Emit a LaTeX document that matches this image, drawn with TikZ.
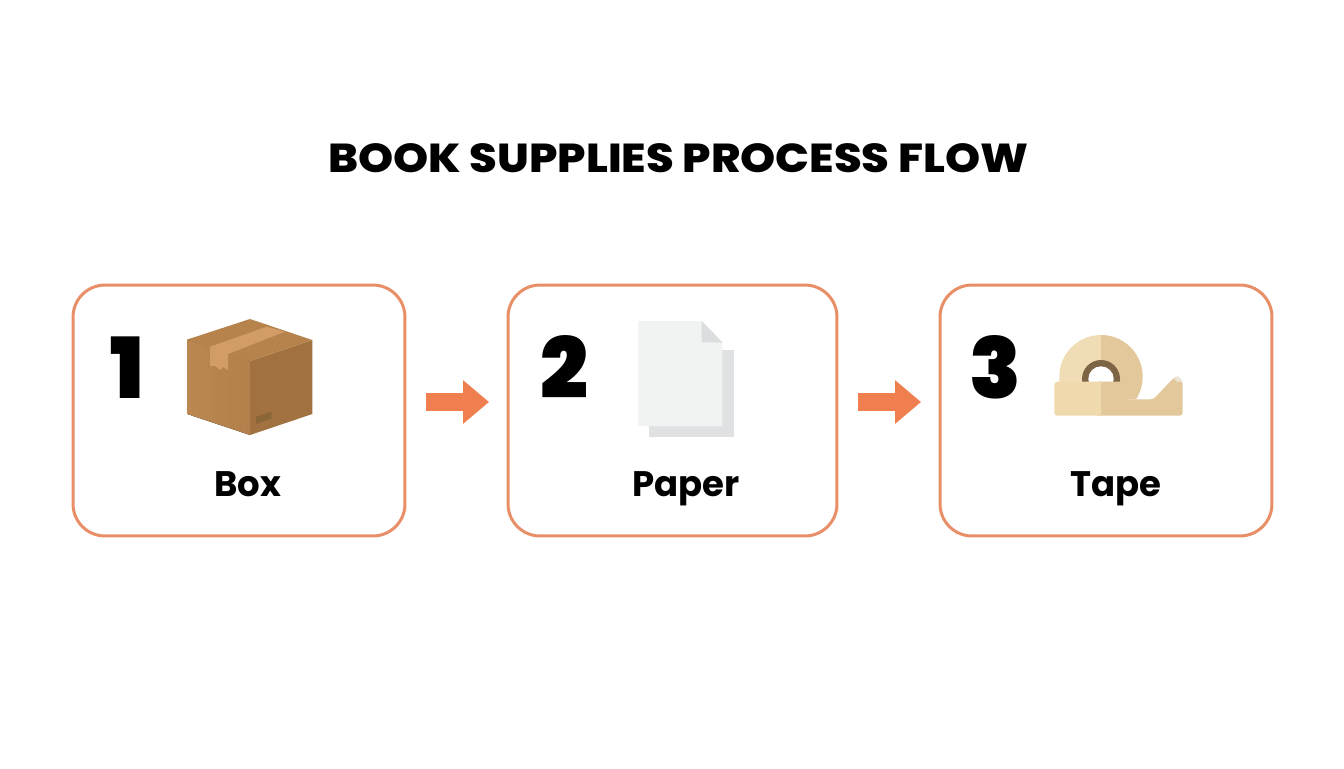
\documentclass[tikz,border=0pt]{standalone}
\usepackage{fontspec}
\usetikzlibrary{arrows.meta}
\setmainfont{Poppins}[UprightFont=* Bold]
\newfontfamily\titlefont{Poppins}[UprightFont=* ExtraBold,FakeStretch=1.106]
\newfontfamily\numberfont{Poppins}[UprightFont=* Black]
\definecolor{flow line}{HTML}{E88F68}
\definecolor{flow arrow}{HTML}{F07F50}
\definecolor{carton light}{HTML}{BC8851}
\definecolor{carton mid}{HTML}{B37F4A}
\definecolor{carton dark}{HTML}{A1713F}
\definecolor{carton top}{HTML}{B6834C}
\definecolor{carton tape}{HTML}{D19C66}
\definecolor{carton slot}{HTML}{8A6536}
\definecolor{sheet front}{HTML}{F1F2F2}
\definecolor{sheet back}{HTML}{DFE1E2}
\definecolor{sheet fold}{HTML}{DCDDDE}
\definecolor{roll light}{HTML}{F0DDB5}
\definecolor{roll core}{HTML}{7D6444}
\definecolor{base light}{HTML}{F0D9AC}
\definecolor{base dark}{HTML}{E2C89A}
\definecolor{base tooth}{HTML}{EBE3CF}
\tikzset{
  stage box/.style={draw=flow line,line width=.06cm,rounded corners=.64cm,
    minimum width=6.64cm,minimum height=5.02cm,outer sep=0pt},
  stage number/.style={font=\numberfont\fontsize{48}{48}\selectfont,anchor=base,inner sep=0pt},
  stage label/.style={font=\fontsize{20.2}{21}\selectfont,anchor=base,inner sep=0pt},
  flow step/.style={draw=flow arrow,line width=.36cm,
    -{Triangle[length=.52cm,width=.84cm]},shorten <=.43cm,shorten >=.38cm},
}
\begin{document}
\begin{tikzpicture}[x=.02cm,y=-.02cm]
        \fill
          [white]
          (0,0) rectangle (1344,768)
        ;
        \useasboundingbox (0,0) rectangle (1344,768);
        \node (title) [anchor=base,inner sep=0pt,font=\titlefont\fontsize{23}{23}\selectfont]
          at (678.5,172) {BOOK SUPPLIES PROCESS FLOW};
        \node (box stage) [stage box] at (239,410.5) {};
        \node (paper stage) [stage box,minimum width=6.58cm] at (672.5,410.5) {};
        \node (tape stage) [stage box] at (1106,410.5) {};
        \coordinate (flow level) at (0,402);
        \draw
          [flow step]
          (box stage.east |- flow level)
          -- (paper stage.west |- flow level)
        ;
        \draw
          [flow step]
          (paper stage.east |- flow level)
          -- (tape stage.west |- flow level)
        ;
        \node (number one) [stage number] at (127.5,398) {1};
        \node (number two) [stage number] at (564.5,398) {2};
        \node (number three) [stage number] at (995.5,398) {3};
        \node (box label) [stage label] at (247.5,496) {Box};
        \node (paper label) [stage label] at (686,496) {Paper};
        \node (tape label) [stage label] at (1116,496) {Tape};
        \fill
          [left color=carton light,right color=carton mid]
          (187.3,339.5) -- (250,361) -- (250,435) -- (187.3,414) -- cycle
        ;
        \fill
          [fill=carton dark]
          (250,361) -- (312.3,340) -- (312.3,414) -- (250,435) -- cycle
        ;
        \fill
          [fill=carton top]
          (250,319) -- (312.3,340) -- (250,361) -- (187.3,339.5) -- cycle
        ;
        \fill
          [fill=carton tape]
          (210,346.7) -- (266.7,326.7) -- (285,331.7) -- (228,354)
          -- (228,370) -- (223,367) -- (220,370) -- (216,366) -- (210,366) -- cycle
        ;
        \fill
          [fill=carton slot]
          (256,416.7) -- (271.7,411.7) -- (271.7,418.3) -- (256,424) -- cycle
        ;
        \fill
          [fill=sheet back]
          (649.3,350) rectangle (733.7,436.7)
        ;
        \fill
          [fill=sheet front]
          (638.3,321) -- (701.7,321) -- (722.3,342.3) -- (722.3,426) -- (638.3,426) -- cycle
        ;
        \fill
          [fill=sheet fold]
          (701.7,321) -- (722.3,342.3) -- (701.7,342.3) -- cycle
        ;
        \fill
          [fill=roll light]
          (1101,335) arc (-90:-180:41.7) -- (1059.3,390) -- (1101,390) -- cycle
        ;
        \fill
          [fill=base dark]
          (1101,335) arc (-90:32.9:41.7) -- (1101,399.3) -- cycle
        ;
        \fill
          [fill=roll core]
          (1101,379) circle (19)
        ;
        \fill
          [fill=white]
          (1101,379) circle (12.7)
        ;
        \fill
          [fill=base dark,rounded corners=.06cm]
          (1095,381.7) -- (1125,381.7) -- (1125,399.3) -- (1153.3,399.3) -- (1173.3,378.3)
          -- (1178,376) -- (1182.7,381.7) -- (1182.7,415.7) -- (1095,415.7) -- cycle
        ;
        \fill
          [fill=base light]
          (1101,381.7) [rounded corners=.06cm] -- (1054.3,381.7) -- (1054.3,415.7)
          [sharp corners] -- (1101,415.7) -- cycle
        ;
        \fill
          [fill=base tooth]
          (1173.3,378.3) -- (1178,376) -- (1182.7,381.7) -- (1177,382) -- cycle
        ;
      \end{tikzpicture}
\end{document}
